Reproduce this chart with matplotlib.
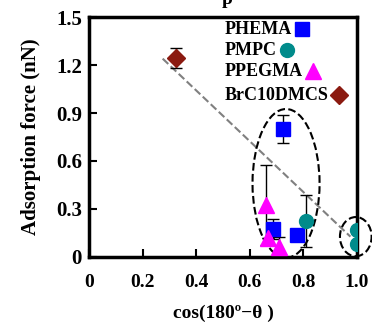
import matplotlib
matplotlib.use('Agg')
import matplotlib.pyplot as plt
from matplotlib.patches import Ellipse

plt.rcParams['font.family'] = ['Liberation Serif', 'DejaVu Serif']
plt.rcParams['font.weight'] = 'bold'

# Данные: cos(180-θ), сила адсорбции, погрешность
phema_x = [0.725, 0.685, 0.774]
phema_y = [0.80, 0.175, 0.1375]
phema_err = [0.085, 0.06, 0.0]

pmpc_x = [0.81, 1.0, 1.0]
pmpc_y = [0.225, 0.169, 0.081]
pmpc_err = [0.16, 0.0, 0.0]

ppegma_x = [0.659, 0.669, 0.709]
ppegma_y = [0.325, 0.117, 0.065]
ppegma_err = [0.25, 0.0, 0.06]

brc_x = [0.325]
brc_y = [1.244]
brc_err = [0.06]

trend_x = [0.275, 0.975]
trend_y = [1.24, 0.127]

fig = plt.figure(figsize=(3.72, 3.22), dpi=100)
ax = fig.add_axes([0.239, 0.202, 0.721, 0.745])

ax.plot(trend_x, trend_y, linestyle='--', color='gray', linewidth=1.5, zorder=1)

err_kw = dict(ecolor='black', elinewidth=1, capsize=4, capthick=1, linestyle='none')
series = [
    ('PHEMA', phema_x, phema_y, phema_err, 's', '#0000FF', 10),
    ('PMPC', pmpc_x, pmpc_y, pmpc_err, 'o', '#008B8B', 10),
    ('PPEGMA', ppegma_x, ppegma_y, ppegma_err, '^', '#FF00FF', 11),
    ('BrC10DMCS', brc_x, brc_y, brc_err, 'D', '#8B1A10', 9),
]
for name, xs, ys, es, m, c, ms in series:
    ax.errorbar(xs, ys, yerr=es, fmt=m, color=c, markersize=ms, zorder=3, **err_kw)

# Эллипсы-выделения
ax.add_patch(Ellipse((0.735, 0.46), 0.25, 0.93, fill=False, linestyle='--',
                     edgecolor='black', linewidth=1.5, zorder=2))
ax.add_patch(Ellipse((0.995, 0.127), 0.118, 0.245, fill=False, linestyle='--',
                     edgecolor='black', linewidth=1.5, zorder=2, clip_on=False))

ax.set_xlim(0, 1.0)
ax.set_ylim(0, 1.5)
ax.set_xticks([0, 0.2, 0.4, 0.6, 0.8, 1.0])
ax.set_xticklabels(['0', '0.2', '0.4', '0.6', '0.8', '1.0'])
ax.set_yticks([0, 0.3, 0.6, 0.9, 1.2, 1.5])
ax.set_yticklabels(['0', '0.3', '0.6', '0.9', '1.2', '1.5'])
ax.tick_params(direction='in', length=6, width=1.5)
ax.tick_params(axis='x', pad=12, labelsize=14)
ax.tick_params(axis='y', pad=5, labelsize=15)

for s in ax.spines.values():
    s.set_linewidth(2.5)

ax.set_xlabel('cos(180º−θ )', fontsize=14, fontweight='bold', labelpad=10)
ax.set_ylabel('Adsorption force (nN)', fontsize=15, fontweight='bold', labelpad=11)

# Легенда вручную: подписи выровнены слева, маркер сразу после текста
fig.canvas.draw()
renderer = fig.canvas.get_renderer()
inv = ax.transAxes.inverted()
row_y = [0.95, 0.862, 0.775, 0.675]
for (name, xs, ys, es, m, c, ms), yy in zip(series, row_y):
    t = ax.text(0.505, yy, name, transform=ax.transAxes, fontsize=13,
                fontweight='bold', va='center', ha='left')
    bb = t.get_window_extent(renderer)
    x_end = inv.transform((bb.x1, bb.y0))[0]
    ax.plot([x_end + 0.04], [yy], marker=m, color=c, markersize=ms,
            transform=ax.transAxes, clip_on=False)

fig.text(0.61, 1.0, 'p', ha='center', va='center', fontsize=14)

plt.savefig('out.png', dpi=100, facecolor='white')
